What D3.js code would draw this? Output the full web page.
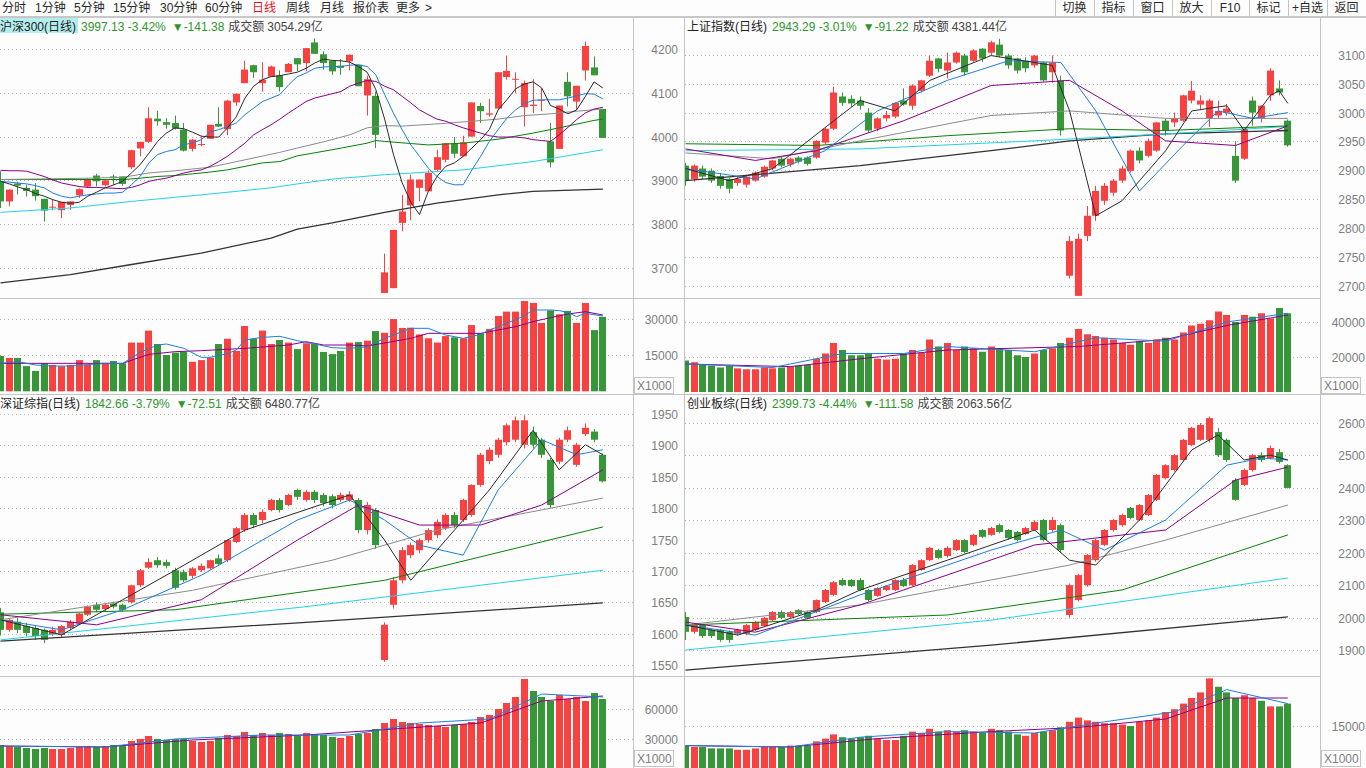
<!DOCTYPE html>
<html><head><meta charset="utf-8">
<script src="https://cdn.jsdelivr.net/npm/d3@7"></script>
<style>
html,body{margin:0;padding:0;background:#fdfdfd;overflow:hidden;}
svg{display:block;font-family:"Liberation Sans",Arial,"Noto Sans CJK SC",sans-serif;}
</style></head><body>
<svg id="c" width="1366" height="768"></svg>
<script>
// ================= DATA =================
const toolbarItems = ['分时','1分钟','5分钟','15分钟','30分钟','60分钟','日线','周线','月线','报价表','更多','>'];
const toolbarX = [2,35,74,113,160,205,252,286,320,353,396,425];
const toolbarActive = '日线';
const rightButtons = ['切换','指标','窗口','放大','F10','标记','+自选','返回'];
const rightButtonEdges = [1055,1094,1133,1172,1211,1249,1288,1327,1366];

const panelNames  = ['沪深300(日线)','上证指数(日线)','深证综指(日线)','创业板综(日线)'];
const panelLast   = ['3997.13 -3.42%','2943.29 -3.01%','1842.66 -3.79%','2399.73 -4.44%'];
const panelChange = ['▼-141.38','▼-91.22','▼-72.51','▼-111.58'];
const panelAmount = ['3054.29亿','4381.44亿','6480.77亿','2063.56亿'];

// price / volume tick labels
const hs300Ticks = [3700,3800,3900,4000,4100,4200];
const sseTicks   = [2700,2750,2800,2850,2900,2950,3000,3050,3100];
const szTicks    = [1550,1600,1650,1700,1750,1800,1850,1900,1950];
const cybTicks   = [1900,2000,2100,2200,2300,2400,2500,2600];
const hs300VolTicks = [15000,30000];
const sseVolTicks   = [20000,40000];
const szVolTicks    = [30000,60000];
const cybVolTicks   = [15000];

// candles [open, high, low, close]
const hs300Candles = [
[3898,3921,3837,3852],[3852,3879,3841,3879],[3893,3897,3868,3888],[3883,3890,3863,3876],[3879,3894,3854,3864],
[3858,3858,3806,3831],[3838,3856,3832,3840],[3832,3851,3814,3851],[3844,3853,3833,3852],[3866,3882,3860,3880],
[3886,3905,3883,3903],[3911,3915,3886,3898],[3889,3902,3886,3900],[3909,3913,3890,3905],[3909,3909,3888,3892],
[3930,3970,3926,3969],[3973,3988,3955,3988],[3988,4067,3985,4042],[4041,4059,4025,4035],[4033,4042,4018,4027],
[4031,4048,4016,4018],[4016,4031,3966,3968],[3972,3995,3966,3993],[3981,4002,3978,3983],[3995,4027,3995,4027],
[4029,4067,4022,4023],[4017,4084,4003,4082],[4078,4098,4070,4098],[4122,4173,4122,4153],[4163,4164,4134,4147],
[4122,4170,4103,4130],[4137,4162,4137,4160],[4140,4151,4103,4113],[4147,4168,4147,4166],[4179,4179,4149,4165],
[4168,4202,4149,4202],[4215,4224,4189,4189],[4188,4195,4153,4168],[4173,4173,4141,4149],[4162,4177,4141,4157],
[4172,4187,4151,4187],[4164,4164,4115,4115],[4094,4139,4048,4131],[4093,4103,3974,4004],[3643,3733,3643,3690],
[3654,3787,3654,3787],[3803,3867,3784,3829],[3843,3913,3809,3902],[3883,3902,3852,3902],[3875,3923,3875,3917],
[3924,3970,3921,3953],[3947,3985,3941,3985],[3985,3999,3951,3961],[3955,4002,3955,3987],[4000,4078,4000,4078],
[4070,4077,4031,4058],[4050,4086,4045,4053],[4064,4147,4061,4147],[4136,4185,4130,4150],[4130,4147,4099,4132],
[4067,4128,4023,4122],[4070,4131,4054,4073],[4082,4111,4058,4084],[3989,4031,3930,3941],[3972,4071,3972,4071],
[4125,4147,4069,4092],[4080,4116,4061,4116],[4151,4217,4128,4207],[4158,4183,4140,4140],[4063,4063,3997,3997.13]];
const hs300Vol = [14700,13900,13900,10500,8500,11700,11000,10400,11000,13000,11200,13000,11900,12600,11700,20300,20300,25300,19700,15100,
16100,16500,12300,13000,14000,19700,21900,16800,27200,21900,25300,19700,21400,20300,17600,20000,19700,16400,15500,16800,
20300,20500,21100,25100,24400,30100,26400,26500,23700,22100,20300,23000,22500,22100,27600,24200,26000,31400,33200,33200,
37600,36800,28500,33700,32100,33500,28500,36800,25500,31000];
const hs300MA5 = [3898,3892,3885,3879,3870,3864,3856,3850,3848,3850,3864,3873,3883,3890,3898,3917,3936,3962,3989,4008,
4020,4018,4010,4001,3999,3999,4020,4045,4088,4115,4130,4137,4139,4143,4147,4156,4168,4177,4174,4173,
4170,4160,4147,4107,4040,3960,3895,3850,3822,3875,3909,3932,3940,3955,3974,3993,4016,4061,4084,4109,
4120,4125,4111,4071,4063,4052,4061,4092,4125,4111];
const hs300MA10 = [3898,3896,3894,3892,3888,3883,3871,3864,3860,3864,3867,3869,3871,3871,3873,3890,3909,3940,3959,3966,
3970,3982,3985,3993,4010,4016,4023,4031,4050,4065,4080,4088,4096,4118,4137,4145,4156,4159,4160,4160,
4163,4164,4160,4141,4096,4054,4016,3981,3955,3928,3909,3895,3890,3890,3924,3955,3989,4016,4042,4061,
4075,4083,4084,4084,4084,4088,4093,4098,4097,4086];
const hs300MA20 = [3923,3922,3922,3921,3915,3909,3901,3894,3890,3886,3884,3884,3883,3882,3881,3884,3890,3898,3902,3905,
3911,3917,3921,3924,3932,3943,3955,3970,3985,4004,4016,4027,4040,4054,4067,4080,4088,4093,4098,4103,
4115,4122,4128,4126,4115,4107,4092,4077,4061,4050,4040,4035,4027,4020,4014,4008,4002,3999,3999,3999,
3997,3993,3991,3989,4004,4021,4039,4054,4063,4067];
const hs300MA30 = [[0,3902],[10,3905],[14,3907],[17,3917],[20,3922],[24,3930],[28,3947],[32,3964],[34,3974],[37,3988],[40,4004],[42,4020],[44,4025],[46,4024],[50,4029],[54,4035],[57,4040],[60,4048],[63,4052],[66,4058],[69,4063]];
const hs300MA60 = [[0,3902],[14,3902],[16,3905],[18,3909],[20,3911],[22,3915],[24,3919],[26,3924],[28,3932],[30,3940],[32,3943],[34,3956],[38,3970],[42,3985],[43,3991],[44,3989],[49,3981],[53,3985],[57,3994],[61,4008],[63,4016],[64,4020],[68,4037],[69,4040]];
const hs300MA120 = [[0,3827],[8,3837],[15,3852],[23,3867],[31,3883],[34,3892],[38,3903],[44,3913],[53,3924],[61,3943],[69,3970]];
const hs300MA250 = [[0,3666],[8,3685],[15,3708],[23,3734],[31,3768],[34,3789],[38,3803],[44,3827],[50,3848],[57,3867],[61,3875],[69,3880]];
const hs300VolMA5 = [[0,11650],[2,12345],[4,10956],[6,10540],[8,10540],[11,11373],[14,11650],[16,16234],[18,19290],[19,19707],[21,17901],[23,14151],[24,14151],[26,15679],[27,17207],[28,21374],[30,22485],[32,22902],[34,21096],[36,19707],[38,18179],[40,17901],[42,18596],[44,22068],[46,24847],[47,26236],[49,26236],[51,23457],[53,22068],[55,23735],[56,25541],[58,28318],[60,31513],[61,33874],[63,33874],[64,33597],[65,32902],[66,31096],[67,32485],[69,31374]];
const hs300VolMA10 = [[0,11650],[14,11650],[17,15401],[20,16512],[23,16929],[28,17901],[33,19290],[35,20679],[37,19290],[40,19290],[42,18874],[47,22068],[49,24152],[52,24152],[55,24152],[56,24847],[59,26930],[61,29014],[63,30680],[65,32208],[67,33180],[69,31791]];

const sseCandles = [
[2908,2913,2873,2882],[2885,2910,2880,2908],[2903,2908,2885,2889],[2899,2903,2878,2882],[2890,2895,2868,2873],
[2885,2887,2860,2868],[2878,2890,2873,2885],[2875,2890,2870,2889],[2882,2898,2880,2896],[2889,2908,2887,2906],
[2903,2918,2900,2917],[2920,2923,2905,2908],[2910,2922,2906,2920],[2922,2925,2912,2915],[2922,2924,2908,2911],
[2922,2952,2920,2951],[2948,2974,2945,2972],[2972,3045,2970,3035],[3028,3035,3012,3017],[3024,3030,3010,3016],
[3021,3028,3005,3012],[3000,3008,2965,2969],[2972,2992,2968,2990],[2990,3003,2985,2996],[2993,3018,2990,3017],
[3021,3042,3012,3014],[3012,3049,3005,3047],[3038,3057,3035,3056],[3064,3099,3062,3090],[3094,3095,3070,3076],
[3073,3104,3059,3087],[3087,3106,3085,3104],[3099,3102,3064,3070],[3090,3110,3088,3108],[3111,3112,3088,3094],
[3104,3125,3100,3122],[3118,3128,3096,3099],[3099,3102,3076,3082],[3094,3095,3068,3073],[3090,3096,3070,3077],
[3082,3100,3078,3099],[3087,3088,3054,3056],[3070,3099,3052,3087],[3056,3064,2960,2969],[2717,2786,2712,2777],
[2682,2790,2682,2781],[2786,2838,2777,2821],[2821,2873,2812,2864],[2847,2878,2840,2873],[2861,2885,2855,2882],
[2882,2908,2878,2903],[2899,2936,2896,2934],[2934,2940,2912,2917],[2925,2955,2922,2951],[2934,2984,2932,2983],
[2986,2990,2960,2969],[2983,3000,2975,2990],[2986,3031,2984,3030],[3021,3055,3016,3038],[3014,3030,3005,3021],
[2990,3024,2975,3021],[2995,3021,2990,3003],[3000,3015,2995,3007],[2925,2950,2878,2882],[2920,2973,2918,2972],
[3021,3028,2977,3000],[2990,3013,2983,3012],[3030,3077,3020,3073],[3042,3056,3030,3035],[2986,2988,2941,2943.29]];
const sseVol = [18000,17000,16000,15000,14000,15000,13500,13000,13000,14000,13500,14000,14500,15000,15500,19000,22000,28000,24000,21000,
21000,22000,19000,18500,19000,22000,24000,22500,30000,26000,28000,24000,26000,25000,23000,26000,25000,24000,21000,20000,
22000,24000,25000,28000,31000,36000,33000,32000,31000,30000,28000,27000,29000,28000,30000,31000,30000,34000,38000,39000,
41000,46000,44000,40000,44000,43000,45000,42000,48000,45000];
const sseMA5   = [[0,2903],[5,2882],[10,2903],[17,2986],[20,3021],[24,3003],[28,3056],[35,3099],[42,3082],[44,3003],[47,2821],[50,2847],[55,2934],[58,3003],[62,3012],[64,2969],[67,3030],[68,3038],[69,3016]];
const sseMA10  = [[0,2903],[8,2885],[16,2934],[22,3003],[30,3056],[37,3090],[43,3087],[47,3003],[52,2864],[57,2943],[61,3003],[65,2990],[69,3000]];
const sseMA20  = [[0,2937],[8,2917],[15,2934],[25,2986],[35,3047],[44,3056],[50,3003],[55,2951],[63,2943],[69,2977]];
const sseMA30  = [[0,2930],[10,2920],[20,2951],[35,2995],[44,3003],[55,2990],[69,2990]];
const sseMA60  = [[0,2946],[15,2943],[30,2960],[44,2972],[55,2969],[69,2977]];
const sseMA120 = [[0,2934],[20,2937],[40,2951],[55,2963],[69,2976]];
const sseMA250 = [[0,2882],[20,2908],[35,2934],[44,2951],[55,2963],[69,2969]];
const sseVolMA5  = [[0,16000],[10,14000],[18,22000],[25,22000],[30,26000],[40,23000],[47,31000],[55,29000],[62,40000],[69,45000]];
const sseVolMA10 = [[0,16000],[12,14500],[20,19000],[30,24000],[45,26000],[55,30000],[62,38000],[69,44000]];

const szCandles = [
[1634,1641,1597,1606],[1606,1625,1603,1622],[1619,1625,1601,1606],[1612,1617,1596,1601],[1609,1612,1590,1596],
[1606,1608,1585,1590],[1599,1611,1596,1606],[1598,1614,1593,1612],[1609,1622,1605,1619],[1616,1633,1614,1632],
[1630,1645,1628,1643],[1646,1650,1634,1638],[1639,1649,1636,1646],[1648,1651,1640,1643],[1646,1648,1635,1638],
[1650,1678,1648,1677],[1677,1703,1674,1701],[1705,1720,1703,1714],[1717,1722,1705,1709],[1714,1718,1704,1708],
[1701,1705,1670,1673],[1698,1702,1682,1685],[1692,1706,1688,1704],[1701,1712,1698,1708],[1704,1718,1702,1717],
[1720,1726,1708,1711],[1717,1750,1714,1749],[1746,1770,1744,1768],[1765,1792,1762,1789],[1789,1792,1768,1773],
[1781,1798,1776,1794],[1797,1815,1795,1813],[1813,1816,1793,1797],[1805,1823,1803,1821],[1829,1831,1813,1818],
[1813,1829,1810,1826],[1826,1829,1808,1813],[1821,1824,1803,1808],[1819,1822,1800,1805],[1813,1825,1810,1821],
[1813,1827,1810,1822],[1813,1816,1760,1765],[1765,1810,1758,1805],[1797,1800,1735,1741],[1558,1618,1555,1614],
[1646,1690,1640,1685],[1685,1738,1680,1733],[1725,1745,1720,1741],[1733,1752,1728,1749],[1749,1768,1745,1765],
[1757,1782,1752,1778],[1768,1792,1765,1789],[1789,1794,1768,1773],[1781,1815,1778,1813],[1789,1838,1786,1837],
[1837,1888,1834,1885],[1875,1897,1870,1893],[1885,1912,1880,1909],[1905,1935,1900,1932],[1909,1946,1905,1940],
[1901,1948,1895,1940],[1921,1930,1895,1901],[1909,1912,1880,1885],[1877,1880,1800,1805],[1874,1912,1870,1909],
[1909,1930,1905,1924],[1869,1904,1866,1901],[1918,1935,1915,1928],[1922,1926,1905,1909],[1885,1887,1841,1842.66]];
const szVol = [24000,23000,22000,21000,20000,21000,20000,20000,21000,22000,23000,22000,23000,24000,24000,28000,30000,33000,30000,29000,
30000,30000,28000,27000,28000,31000,34000,33000,37000,34000,36000,34000,36000,35000,33000,36000,35000,34000,32000,31000,
33000,35000,36000,40000,46000,50000,47000,46000,45000,44000,43000,42000,44000,45000,47000,52000,54000,60000,66000,72000,
90000,78000,72000,68000,74000,70000,72000,68000,76000,70000];
const szMA5   = [[0,1622],[7,1598],[14,1654],[20,1701],[28,1765],[40,1821],[44,1749],[47,1685],[51,1749],[56,1829],[61,1924],[64,1861],[67,1901],[69,1885]];
const szMA10  = [[0,1622],[7,1606],[14,1638],[23,1693],[34,1781],[40,1813],[44,1781],[48,1741],[53,1725],[57,1829],[62,1909],[66,1885],[69,1893]];
const szMA20  = [[0,1630],[11,1614],[23,1654],[34,1749],[41,1805],[48,1773],[55,1773],[62,1805],[69,1861]];
const szMA30  = [[0,1622],[22,1669],[38,1717],[50,1765],[69,1816]];
const szMA60  = [[0,1631],[20,1638],[44,1685],[69,1770]];
const szMA120 = [[0,1590],[35,1643],[69,1701]];
const szMA250 = [[0,1588],[35,1618],[69,1649]];
const szVolMA5  = [[0,23000],[12,22000],[20,30000],[30,34000],[40,34000],[48,46000],[56,50000],[62,75000],[69,72000]];
const szVolMA10 = [[0,23000],[12,22000],[22,29000],[35,34000],[45,40000],[55,46000],[62,68000],[69,73000]];

const cybCandles = [
[2002,2017,1931,1956],[1956,1980,1950,1977],[1977,1980,1937,1943],[1962,1965,1937,1943],[1962,1965,1925,1931],
[1956,1960,1922,1931],[1950,1966,1945,1962],[1950,1980,1946,1977],[1962,1990,1958,1986],[1974,2002,1971,1999],
[1992,2020,1988,2017],[2017,2022,1995,1999],[2002,2020,1999,2017],[2023,2026,2008,2011],[2017,2020,1995,1999],
[2017,2056,2014,2054],[2048,2088,2045,2085],[2070,2113,2066,2109],[2116,2122,2097,2100],[2116,2119,2094,2097],
[2116,2122,2082,2085],[2085,2088,2050,2054],[2067,2094,2064,2091],[2085,2100,2082,2097],[2085,2118,2082,2116],
[2116,2122,2094,2097],[2100,2165,2097,2162],[2147,2180,2144,2177],[2177,2218,2174,2215],[2208,2212,2180,2184],
[2190,2220,2185,2215],[2208,2242,2205,2239],[2239,2242,2198,2202],[2224,2258,2220,2255],[2270,2273,2245,2249],
[2255,2280,2252,2276],[2285,2290,2260,2264],[2270,2273,2240,2245],[2264,2267,2235,2239],[2258,2280,2255,2276],
[2270,2300,2267,2295],[2301,2304,2235,2239],[2270,2310,2265,2301],[2285,2290,2200,2208],[2008,2105,2000,2100],
[2054,2135,2050,2131],[2100,2196,2095,2193],[2177,2242,2172,2239],[2224,2273,2220,2270],[2270,2304,2265,2301],
[2285,2320,2280,2316],[2338,2341,2303,2307],[2301,2350,2298,2347],[2316,2381,2313,2378],[2363,2443,2360,2440],
[2430,2473,2426,2470],[2455,2504,2450,2501],[2486,2551,2482,2548],[2532,2588,2528,2585],[2548,2600,2545,2594],
[2548,2620,2540,2615],[2572,2585,2495,2501],[2548,2552,2480,2486],[2424,2430,2360,2363],[2409,2460,2405,2455],
[2455,2504,2450,2501],[2501,2510,2480,2486],[2492,2530,2488,2523],[2510,2520,2475,2480],[2470,2473,2398,2399.73]];
const cybVol = [8000,7500,7500,7000,7000,7000,6500,6500,7000,7500,7500,7500,8000,8000,8000,9500,10500,12000,11000,10500,
11000,11500,10500,10000,10000,11500,13000,12500,14000,13000,13500,13000,13500,13000,12500,14000,13500,13000,12000,11500,
12500,13000,13500,14500,16500,18000,17000,16500,16000,16000,15500,15000,16500,17000,18000,20000,21000,23000,25000,27000,
32000,29000,27000,25000,26000,25000,24000,22000,22000,23000];
const cybMA5   = [[0,1977],[6,1946],[15,2023],[20,2085],[30,2177],[40,2270],[44,2177],[47,2162],[52,2301],[58,2517],[61,2563],[64,2486],[67,2501],[69,2486]];
const cybMA10  = [[0,1977],[8,1946],[20,2070],[35,2208],[43,2270],[48,2208],[55,2301],[62,2470],[66,2492],[69,2486]];
const cybMA20  = [[0,1986],[8,1955],[20,2039],[40,2224],[45,2239],[55,2270],[63,2424],[69,2464]];
const cybMA30  = [[0,1977],[20,2039],[44,2162],[55,2239],[69,2347]];
const cybMA60  = [[0,1977],[30,2008],[50,2085],[69,2255]];
const cybMA120 = [[0,1900],[35,1992],[69,2122]];
const cybMA250 = [[0,1838],[35,1915],[69,2002]];
const cybVolMA5  = [[0,8000],[12,7500],[20,11000],[30,13000],[40,12500],[48,16500],[56,20000],[62,28000],[69,23000]];
const cybVolMA10 = [[0,8000],[12,7500],[22,10500],[35,13000],[45,14500],[55,17500],[62,25000],[69,25000]];

// ================= STYLE / LAYOUT =================
const UP = '#fa4141', DOWN = '#379637', TXTGREEN = '#2f962f';
const MA_COLORS = {ma5:'#2b2b2b', ma10:'#1f7fd8', ma20:'#880088', ma30:'#8c8c8c', ma60:'#0a800a', ma120:'#25d2e2', ma250:'#333333'};
const GRID = '#b5b5b5', FRAME = '#c4c4c4', AXIS_TXT = '#7d7d7d';
const STEP = 8.73;

const svg = d3.select('#c');
svg.append('rect').attr('width',1366).attr('height',768).attr('fill','#fdfdfd');
const defs = svg.append('defs');

const dense = arr => arr.map((v,i)=>[i,v]);

const panels = [
 {x0:0, x1:633, axisR:678, pTop:18, pBot:298, vTop:299, vBot:394, yDom:[3700,4200], yRng:[268,49], vDom:[0,30000], vRng:[391.3,319.3],
  ticks:hs300Ticks, vTicks:hs300VolTicks, candles:hs300Candles, vol:hs300Vol,
  mas:{ma250:hs300MA250, ma120:hs300MA120, ma60:hs300MA60, ma30:hs300MA30, ma20:dense(hs300MA20), ma10:dense(hs300MA10), ma5:dense(hs300MA5)},
  vma5:hs300VolMA5, vma10:hs300VolMA10, hy:31, active:true, boxY:377},
 {x0:685, x1:1320, axisR:1365, pTop:18, pBot:298, vTop:299, vBot:394, yDom:[2700,3100], yRng:[285.5,55], vDom:[0,40000], vRng:[392,322],
  ticks:sseTicks, vTicks:sseVolTicks, candles:sseCandles, vol:sseVol,
  mas:{ma250:sseMA250, ma120:sseMA120, ma60:sseMA60, ma30:sseMA30, ma20:sseMA20, ma10:sseMA10, ma5:sseMA5},
  vma5:sseVolMA5, vma10:sseVolMA10, hy:31, active:false, boxY:377},
 {x0:0, x1:633, axisR:678, pTop:396, pBot:676, vTop:677, vBot:768, yDom:[1550,1950], yRng:[665,414], vDom:[0,60000], vRng:[769,709],
  ticks:szTicks, vTicks:szVolTicks, candles:szCandles, vol:szVol,
  mas:{ma250:szMA250, ma120:szMA120, ma60:szMA60, ma30:szMA30, ma20:szMA20, ma10:szMA10, ma5:szMA5},
  vma5:szVolMA5, vma10:szVolMA10, hy:408, active:false, boxY:750},
 {x0:685, x1:1320, axisR:1365, pTop:396, pBot:676, vTop:677, vBot:768, yDom:[1900,2600], yRng:[650,423], vDom:[0,15000], vRng:[768,726],
  ticks:cybTicks, vTicks:cybVolTicks, candles:cybCandles, vol:cybVol,
  mas:{ma250:cybMA250, ma120:cybMA120, ma60:cybMA60, ma30:cybMA30, ma20:cybMA20, ma10:cybMA10, ma5:cybMA5},
  vma5:cybVolMA5, vma10:cybVolMA10, hy:408, active:false, boxY:750}
];

// ================= TOOLBAR =================
const tb = svg.append('g').attr('font-size',12);
toolbarItems.forEach((t,i)=>{
  tb.append('text').attr('x',toolbarX[i]).attr('y',12)
    .attr('fill', t===toolbarActive ? '#e8141b' : '#2a2a2a').text(t);
});
rightButtons.forEach((t,i)=>{
  const a = rightButtonEdges[i], b = rightButtonEdges[i+1];
  tb.append('text').attr('x',(a+b)/2).attr('y',12).attr('text-anchor','middle').attr('fill','#2a2a2a').text(t);
});
rightButtonEdges.slice(0,-1).forEach(e=>{
  tb.append('line').attr('x1',e+0.5).attr('x2',e+0.5).attr('y1',0).attr('y2',16).attr('stroke',FRAME);
});
svg.append('rect').attr('x',0).attr('y',16).attr('width',1366).attr('height',2).attr('fill','#c8c8c8');

// ================= FRAMES =================
const fr = svg.append('g').attr('stroke',FRAME).attr('stroke-width',1);
[633.5, 684.5, 1320.5].forEach(xx=> fr.append('line').attr('x1',xx).attr('x2',xx).attr('y1',18).attr('y2',768));
fr.append('line').attr('x1',0).attr('x2',1320.5).attr('y1',298.5).attr('y2',298.5);
fr.append('line').attr('x1',0).attr('x2',1366).attr('y1',394.5).attr('y2',394.5);
fr.append('line').attr('x1',0).attr('x2',1320.5).attr('y1',676.5).attr('y2',676.5);

// ================= PANELS =================
panels.forEach((P,k)=>{
  const n = P.candles.length;
  const x = d3.scaleLinear().domain([0,n-1]).range([P.x0+0.5, P.x0+0.5+(n-1)*STEP]);
  const y = d3.scaleLinear().domain(P.yDom).range(P.yRng);
  const yv = d3.scaleLinear().domain(P.vDom).range(P.vRng);

  const cp = 'cp'+k, cv = 'cv'+k;
  defs.append('clipPath').attr('id',cp).append('rect').attr('x',P.x0).attr('y',P.pTop).attr('width',P.x1-P.x0).attr('height',P.pBot-P.pTop);
  defs.append('clipPath').attr('id',cv).append('rect').attr('x',P.x0).attr('y',P.vTop).attr('width',P.x1-P.x0).attr('height',P.vBot-P.vTop);

  const g = svg.append('g');
  P.ticks.forEach(t=>{
    const yy = Math.round(y(t))+0.5;
    g.append('line').attr('x1',P.x0).attr('x2',P.x1).attr('y1',yy).attr('y2',yy)
      .attr('stroke',GRID).attr('stroke-dasharray','1,3');
    g.append('text').attr('x',P.axisR).attr('y',yy+4.5).attr('text-anchor','end')
      .attr('font-size',12).attr('fill',AXIS_TXT).text(t);
  });
  P.vTicks.forEach(t=>{
    const yy = Math.round(yv(t))+0.5;
    g.append('line').attr('x1',P.x0).attr('x2',P.x1).attr('y1',yy).attr('y2',yy)
      .attr('stroke',GRID).attr('stroke-dasharray','1,3');
    g.append('text').attr('x',P.axisR).attr('y',yy+4.5).attr('text-anchor','end')
      .attr('font-size',12).attr('fill',AXIS_TXT).text(t);
  });
  // X1000 box
  const bx0 = P.x1+1;
  g.append('rect').attr('x',bx0+0.5).attr('y',P.boxY+0.5).attr('width',39).attr('height',16)
    .attr('fill','none').attr('stroke',FRAME);
  g.append('text').attr('x',bx0+3).attr('y',P.boxY+13).attr('font-size',12).attr('fill',AXIS_TXT).text('X1000');

  // candles
  const cg = g.append('g').attr('clip-path',`url(#${cp})`);
  P.candles.forEach((d,i)=>{
    const [o,h,l,c] = d;
    const col = c>=o ? UP : DOWN;
    const bx = Math.round(x(i)-3.5);
    cg.append('line').attr('x1',bx+3.5).attr('x2',bx+3.5).attr('y1',y(h)).attr('y2',y(l)).attr('stroke',col);
    const top = y(Math.max(o,c)), bot = y(Math.min(o,c));
    cg.append('rect').attr('x',bx).attr('width',7).attr('y',top).attr('height',Math.max(1,bot-top)).attr('fill',col);
  });
  // MA lines
  const line = d3.line().x(d=>x(d[0])).y(d=>y(d[1]));
  ['ma250','ma120','ma60','ma30','ma20','ma10','ma5'].forEach(key=>{
    cg.append('path').attr('d',line(P.mas[key])).attr('fill','none')
      .attr('stroke',MA_COLORS[key]).attr('stroke-width', key==='ma250'?1.3:1);
  });

  // volume
  const vg = g.append('g').attr('clip-path',`url(#${cv})`);
  P.vol.forEach((v,i)=>{
    const d = P.candles[i];
    const col = d[3]>=d[0] ? UP : DOWN;
    const bx = Math.round(x(i)-3.5);
    vg.append('rect').attr('x',bx).attr('width',7).attr('y',yv(v)).attr('height',yv(0)-yv(v)).attr('fill',col);
  });
  const vline = d3.line().x(d=>x(d[0])).y(d=>yv(d[1]));
  vg.append('path').attr('d',vline(P.vma10)).attr('fill','none').attr('stroke',MA_COLORS.ma20);
  vg.append('path').attr('d',vline(P.vma5)).attr('fill','none').attr('stroke',MA_COLORS.ma10);

  // header
  const hx = P.x0 + (P.x0===0 ? 0 : 2);
  if (P.active) svg.append('rect').attr('x',P.x0).attr('y',18).attr('width',78).attr('height',15).attr('fill','#b3eeee');
  const t = svg.append('text').attr('x',hx).attr('y',P.hy).attr('font-size',12);
  t.append('tspan').attr('fill','#222').text(panelNames[k]);
  t.append('tspan').attr('dx',5).attr('fill',TXTGREEN).text(panelLast[k]);
  t.append('tspan').attr('dx',6).attr('fill',TXTGREEN).text(panelChange[k]);
  t.append('tspan').attr('dx',4).attr('fill','#444').text('成交额');
  t.append('tspan').attr('dx',3).attr('fill','#444').text(panelAmount[k]);
});
</script>
</body></html>
